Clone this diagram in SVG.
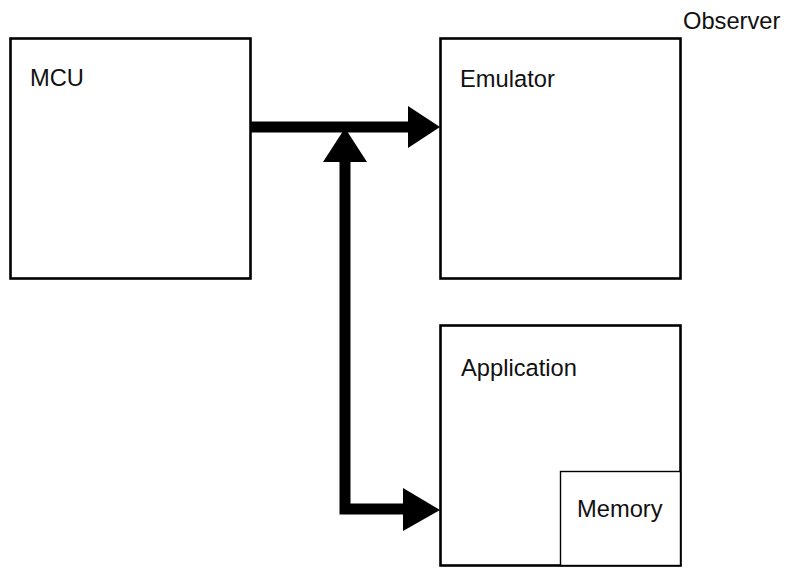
<svg xmlns="http://www.w3.org/2000/svg" width="786" height="568" viewBox="0 0 786 568">
<style>
.box{fill:#fff;stroke:#000;stroke-width:2.6}
.inner{fill:#fff;stroke:#000;stroke-width:1.4}
.lbl{font-family:"Liberation Sans",Arial,sans-serif;font-size:23.7px;fill:#111}
.bar{fill:none;stroke:#000;stroke-width:11;stroke-linejoin:miter}
.head{fill:#000}
</style>
<rect width="786" height="568" fill="#fff"/>
<text class="lbl" x="683" y="29">Observer</text>
<g id="mcu">
<rect class="box" x="10.5" y="38.5" width="240" height="240"/>
<text class="lbl" x="30" y="86">MCU</text>
</g>
<g id="emulator">
<rect class="box" x="440.5" y="38.5" width="240" height="240"/>
<text class="lbl" x="460" y="87">Emulator</text>
</g>
<g id="application">
<rect class="box" x="440.5" y="325.5" width="240" height="240"/>
<text class="lbl" x="461" y="376">Application</text>
</g>
<g id="memory">
<rect class="inner" x="560.5" y="471.5" width="120" height="94"/>
<text class="lbl" x="577" y="517">Memory</text>
</g>
<g id="connectors">
<line class="bar" x1="251" y1="127" x2="409" y2="127"/>
<polygon class="head" points="408,106 440,127 408,148"/>
<path class="bar" d="M345,161 V509 H404"/>
<polygon class="head" points="323,162 345,128 367,162"/>
<polygon class="head" points="403,488 440,510 403,531"/>
</g>
</svg>
